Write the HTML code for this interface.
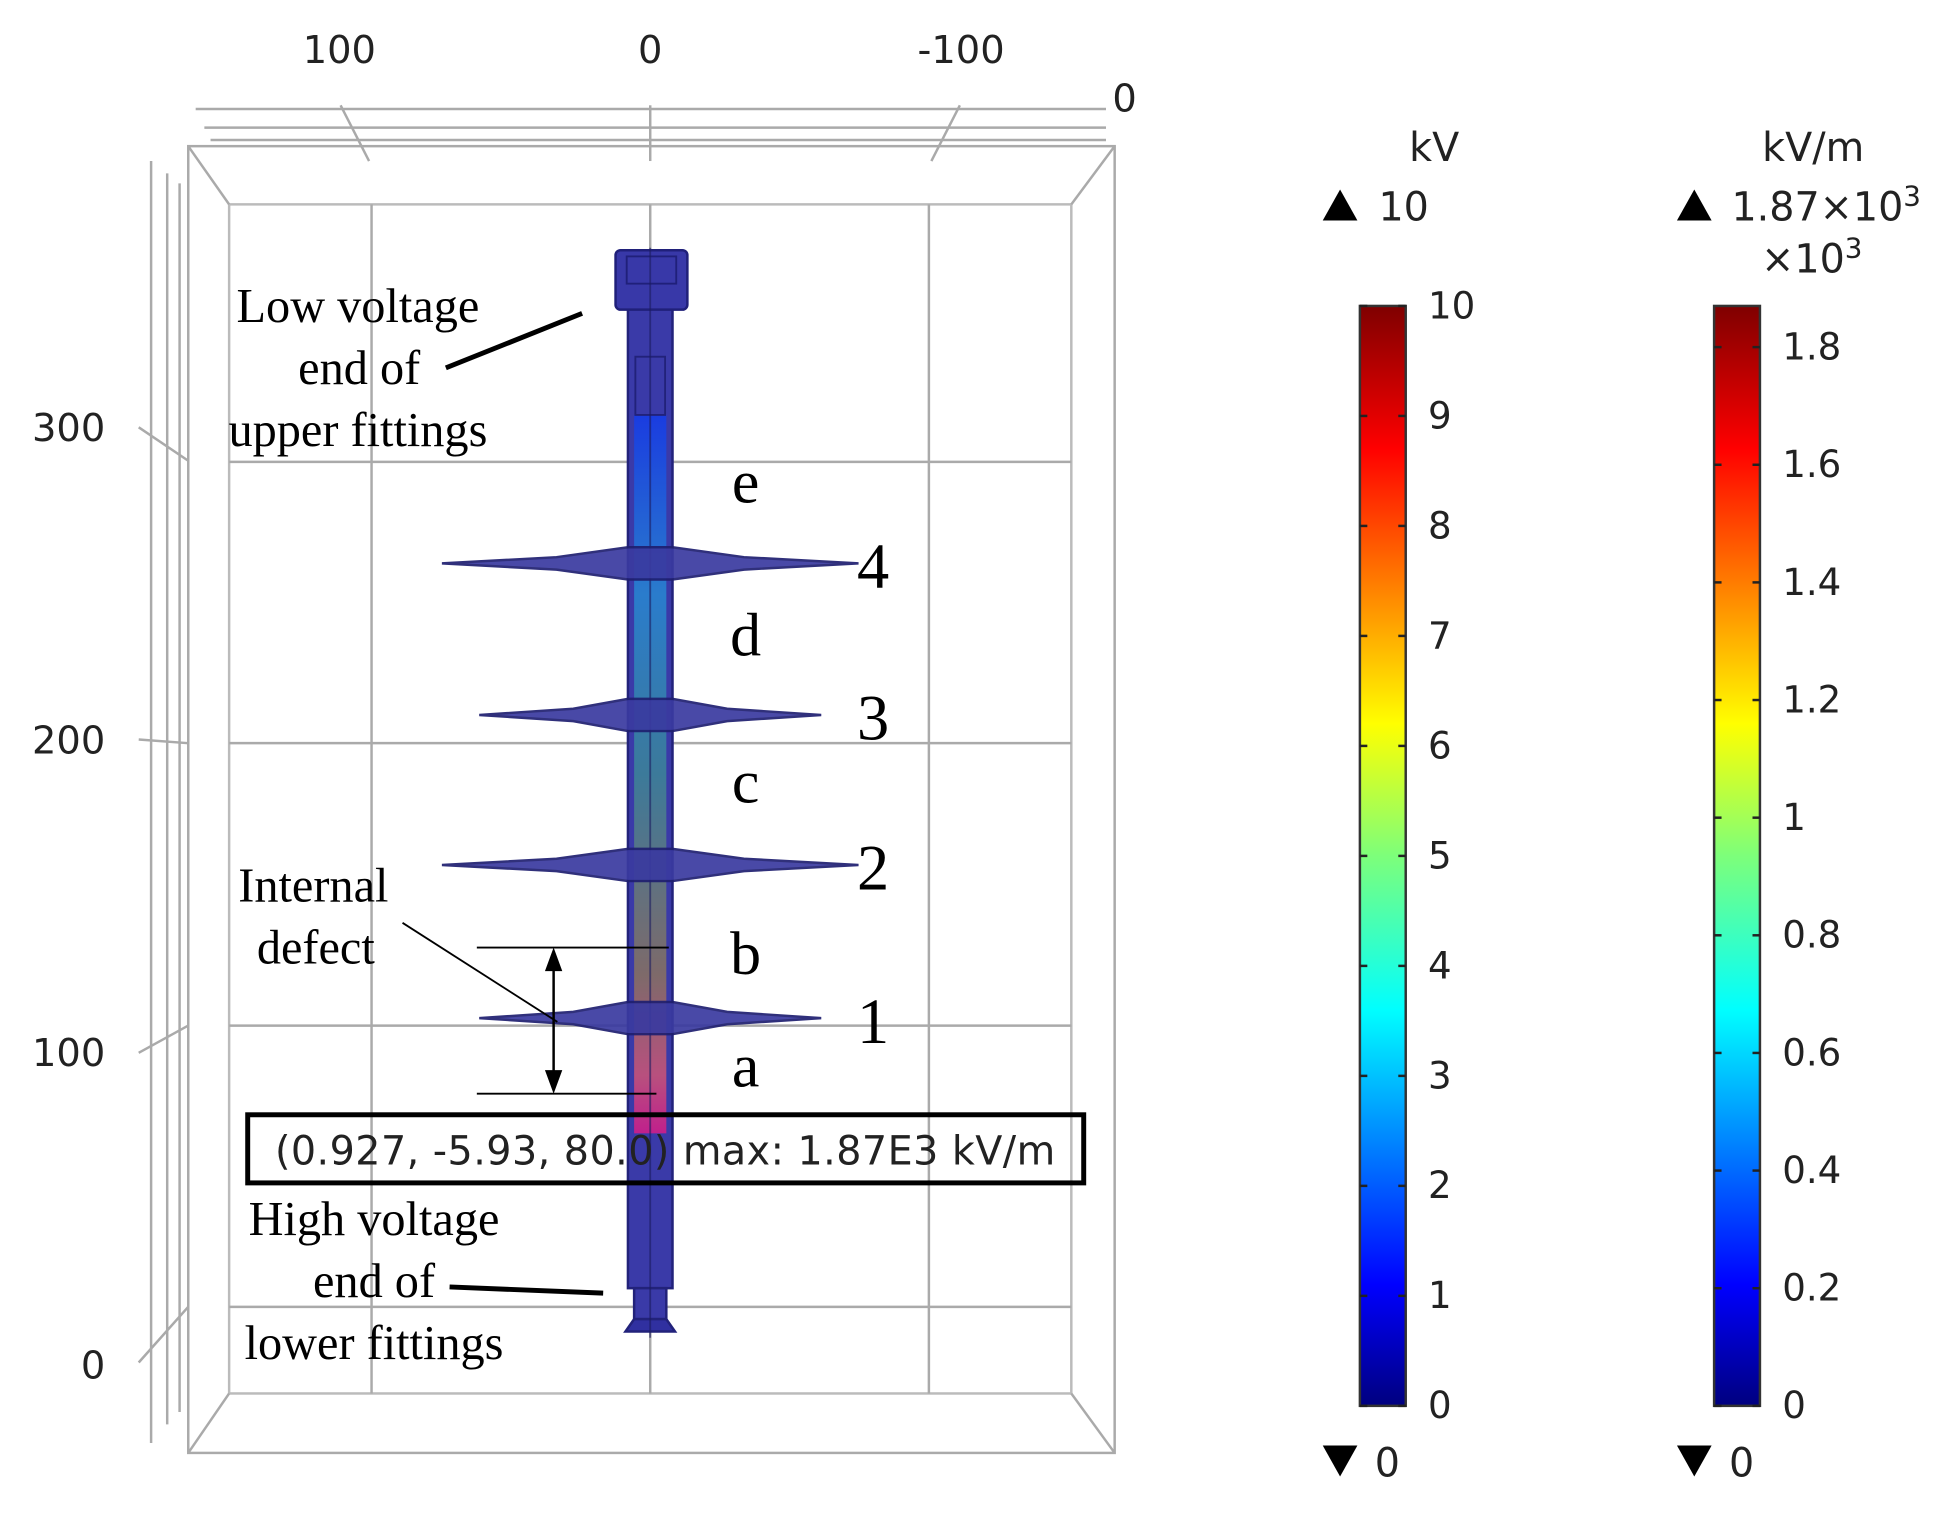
<!DOCTYPE html>
<html><head><meta charset="utf-8"><style>
html,body{margin:0;padding:0;background:#fff;}
svg{display:block;}
.t{font-family:"DejaVu Sans","Liberation Sans",sans-serif;fill:#222;}
.s{font-family:"Liberation Serif",serif;fill:#000;}
</style></head><body>
<svg id="chart" width="1942" height="1526" viewBox="0 0 1568 1232" preserveAspectRatio="none" xmlns="http://www.w3.org/2000/svg">
<defs>
<linearGradient id="jet" x1="0" y1="1" x2="0" y2="0">
<stop offset="0" stop-color="#00007f"/><stop offset="0.11" stop-color="#0000ff"/>
<stop offset="0.36" stop-color="#00ffff"/><stop offset="0.5" stop-color="#7dff7a"/>
<stop offset="0.62" stop-color="#ffff00"/><stop offset="0.87" stop-color="#ff0000"/>
<stop offset="1" stop-color="#7f0000"/></linearGradient>
<linearGradient id="core" x1="0" y1="0" x2="0" y2="1">
<stop offset="0" stop-color="#1a3ce0"/><stop offset="0.25" stop-color="#2a7ccc"/>
<stop offset="0.5" stop-color="#3c7a9a"/><stop offset="0.78" stop-color="#7e6a6a"/>
<stop offset="0.92" stop-color="#b8507e"/><stop offset="1" stop-color="#c0208c"/></linearGradient>
</defs>
<g id="frame" stroke="#aaa" fill="none" stroke-width="2">
<rect x="152" y="118" width="748" height="1055"/>
<rect x="185" y="165" width="680" height="960" stroke="#bbb"/>
<line x1="152" y1="118" x2="185" y2="165"/><line x1="900" y1="118" x2="865" y2="165"/>
<line x1="152" y1="1173" x2="185" y2="1125"/><line x1="900" y1="1173" x2="865" y2="1125"/>
<line x1="158" y1="88" x2="893" y2="88"/><line x1="165" y1="103" x2="893" y2="103"/><line x1="170" y1="113" x2="893" y2="113"/>
<line x1="122" y1="130" x2="122" y2="1165"/><line x1="135" y1="140" x2="135" y2="1150"/><line x1="145" y1="148" x2="145" y2="1140"/>
<line x1="275" y1="85" x2="298" y2="130"/><line x1="525" y1="85" x2="525" y2="130"/><line x1="775" y1="85" x2="752" y2="130"/>
<line x1="112" y1="345" x2="152" y2="372"/><line x1="112" y1="597" x2="152" y2="600"/><line x1="112" y1="850" x2="152" y2="828"/><line x1="112" y1="1100" x2="152" y2="1055"/>
</g>
<g id="grid" stroke="#aaa" stroke-width="2"></g>
<g id="ticks"></g>
<g id="insulator"></g>
<g id="annot"></g>
<g id="bars"></g>
</svg>
<script>
const NS="http://www.w3.org/2000/svg";
const topTicks=["100","0","-100"], topTickX=[100,0,-100];
const leftTicks=["300","200","100","0"], leftTickV=[300,200,100,0];
const gridZ=[289,199,108.6,18.6];
const shedHeights=[111,160,208,256.5];
const shedRadius=[55,67,55,67];
const shedLabels=["1","2","3","4"];
const sectionLabels=["a","b","c","d","e"];
const sectionHeights=[95,131,186,233,282];
const kvTicks=[0,1,2,3,4,5,6,7,8,9,10];
const fieldTicks=[0,0.2,0.4,0.6,0.8,1,1.2,1.4,1.6,1.8];
const kvMax=10, fieldMax=1.87;
function xs(v){return 525-v*2.51;}
function gx(v){return 525-v*2.25;}
function ys(v){return 1102-v*2.523;}
function el(tag,attrs,parent,text){const e=document.createElementNS(NS,tag);for(const k in attrs)e.setAttribute(k,attrs[k]);if(text!==undefined)e.textContent=text;parent.appendChild(e);return e;}
const grid=document.getElementById('grid');
[100,0,-100].forEach(v=>{const l=el('line',{x1:gx(v),y1:165,x2:gx(v),y2:1125},grid);});
gridZ.forEach(v=>{const l=el('line',{x1:185,y1:ys(v),x2:865,y2:ys(v)},grid);});
const ticks=document.getElementById('ticks');
topTicks.forEach((t,i)=>{const e=el('text',{x:xs(topTickX[i]),y:51,'text-anchor':'middle','font-size':31,class:'t'},ticks,t);});
{const e=el('text',{x:908,y:90,'text-anchor':'middle','font-size':31,class:'t'},ticks,'0');}
leftTicks.forEach((t,i)=>{const e=el('text',{x:85,y:ys(leftTickV[i])+11,'text-anchor':'end','font-size':31,class:'t'},ticks,t);});
const ins=document.getElementById('insulator');
el('rect',{x:507,y:248,width:36,height:792,fill:'#3a3aa8',stroke:'#22227a','stroke-width':2},ins);
el('rect',{x:512,y:335,width:26,height:580,fill:'url(#core)'},ins);
el('rect',{x:513,y:288,width:24,height:47,fill:'none',stroke:'#22227a','stroke-width':1.5},ins);
el('rect',{x:497,y:202,width:58,height:48,rx:4,fill:'#3838a8',stroke:'#20207a','stroke-width':2},ins);
el('rect',{x:506,y:207,width:40,height:22,fill:'none',stroke:'#20207a','stroke-width':1.5},ins);
el('rect',{x:512,y:1040,width:26,height:25,fill:'#3a3aa8',stroke:'#22227a','stroke-width':2},ins);
el('path',{d:'M512 1065 L538 1065 L545 1075 L505 1075 Z',fill:'#3030a0',stroke:'#22227a','stroke-width':2},ins);
el('line',{x1:525,y1:200,x2:525,y2:1080,stroke:'#1c1c60','stroke-width':1.5,opacity:0.6},ins);
shedHeights.forEach((h,i)=>{const y=ys(h),r=shedRadius[i]*2.51;
 const p=el('path',{d:`M${525-r} ${y} L${525-r*0.45} ${y-5} L507 ${y-13} L543 ${y-13} L${525+r*0.45} ${y-5} L${525+r} ${y} L${525+r*0.45} ${y+5} L543 ${y+13} L507 ${y+13} L${525-r*0.45} ${y+5} Z`,fill:'#3a3aa0',stroke:'#1f1f70','stroke-width':2,opacity:0.92},ins);
 
 const t=el('text',{x:705,y:y+20,'font-size':52,class:'s','text-anchor':'middle'},ins,shedLabels[i]);
 });
sectionLabels.forEach((s,i)=>{const t=el('text',{x:602,y:ys(sectionHeights[i])+15,'font-size':50,class:'s','text-anchor':'middle'},ins,s);});
const an=document.getElementById('annot');
function txt(x,y,s,sz){const t=el('text',{x:x,y:y,'font-size':sz||39,class:'s','text-anchor':'middle'},an,s);}
txt(289,260,'Low voltage');txt(290,310,'end of');txt(289,360,'upper fittings');
el('line',{x1:360,y1:297,x2:470,y2:253,stroke:'#000','stroke-width':4},an);
txt(253,728,'Internal');txt(255,778,'defect');
el('line',{x1:325,y1:745,x2:450,y2:825,stroke:'#000','stroke-width':1.5},an);
el('line',{x1:385,y1:765,x2:540,y2:765,stroke:'#000','stroke-width':1.5},an);
el('line',{x1:385,y1:883,x2:530,y2:883,stroke:'#000','stroke-width':1.5},an);
el('line',{x1:447,y1:775,x2:447,y2:873,stroke:'#000','stroke-width':2},an);
el('path',{d:'M440 784 L447 765 L454 784 Z M440 864 L447 883 L454 864 Z',fill:'#000'},an);
const box=el('rect',{x:200,y:900,width:675,height:55,fill:'none',stroke:'#000','stroke-width':4},an);

{const t=el('text',{x:537,y:940,'font-size':32,class:'t','text-anchor':'middle',textLength:630},an,'(0.927, -5.93, 80.0) max: 1.87E3 kV/m');}
txt(302,997,'High voltage');txt(302,1047,'end of');txt(302,1097,'lower fittings');
el('line',{x1:363,y1:1039,x2:487,y2:1044,stroke:'#000','stroke-width':4},an);
const bars=document.getElementById('bars');
function sup(parent,x,y,base,fs){const t=el('text',{x:x,y:y,'font-size':fs,class:'t'},parent);
 const a=document.createElementNS(NS,'tspan');a.textContent=base;t.appendChild(a);
 const b=document.createElementNS(NS,'tspan');b.setAttribute('dy',-12);b.setAttribute('font-size',fs*0.7);b.textContent='3';t.appendChild(b);return t;}
function colorbar(x,unit,maxLabel,extra,tickVals,maxV,labelFmt,name){
 const top=247,bot=1135;
 const r=el('rect',{x:x,y:top,width:37,height:bot-top,fill:'url(#jet)',stroke:'#333','stroke-width':2},bars);
 
 el('text',{x:x+20+(extra?60:40),y:130,'font-size':32,class:'t','text-anchor':'middle'},bars,unit);
 el('path',{d:`M${x-30} 178 L${x-16} 153 L${x-2} 178 Z`,fill:'#000'},bars);
 if(extra){sup(bars,x+14,178,maxLabel,32);sup(bars,x+38,220,extra,32);}
 else el('text',{x:x+15,y:178,'font-size':32,class:'t'},bars,maxLabel);
 el('path',{d:`M${x-30} 1167 L${x-16} 1192 L${x-2} 1167 Z`,fill:'#000'},bars);
 el('text',{x:x+12,y:1192,'font-size':32,class:'t'},bars,'0');
 tickVals.forEach(v=>{const y=bot-v/maxV*(bot-top);
  el('line',{x1:x,y1:y,x2:x+6,y2:y,stroke:'#222','stroke-width':2},bars);
  el('line',{x1:x+31,y1:y,x2:x+37,y2:y,stroke:'#222','stroke-width':2},bars);
  const t=el('text',{x:x+55,y:y+(v==maxV?10:10)+(v==0?0:0),'font-size':30,class:'t'},bars,labelFmt(v));
  });
}
colorbar(1098,'kV','10','',kvTicks,kvMax,v=>String(v),'voltage-colorbar');
colorbar(1384,'kV/m','1.87×10','×10',fieldTicks,fieldMax,v=>String(+v.toFixed(1)),'field-colorbar');
</script>
</body></html>
